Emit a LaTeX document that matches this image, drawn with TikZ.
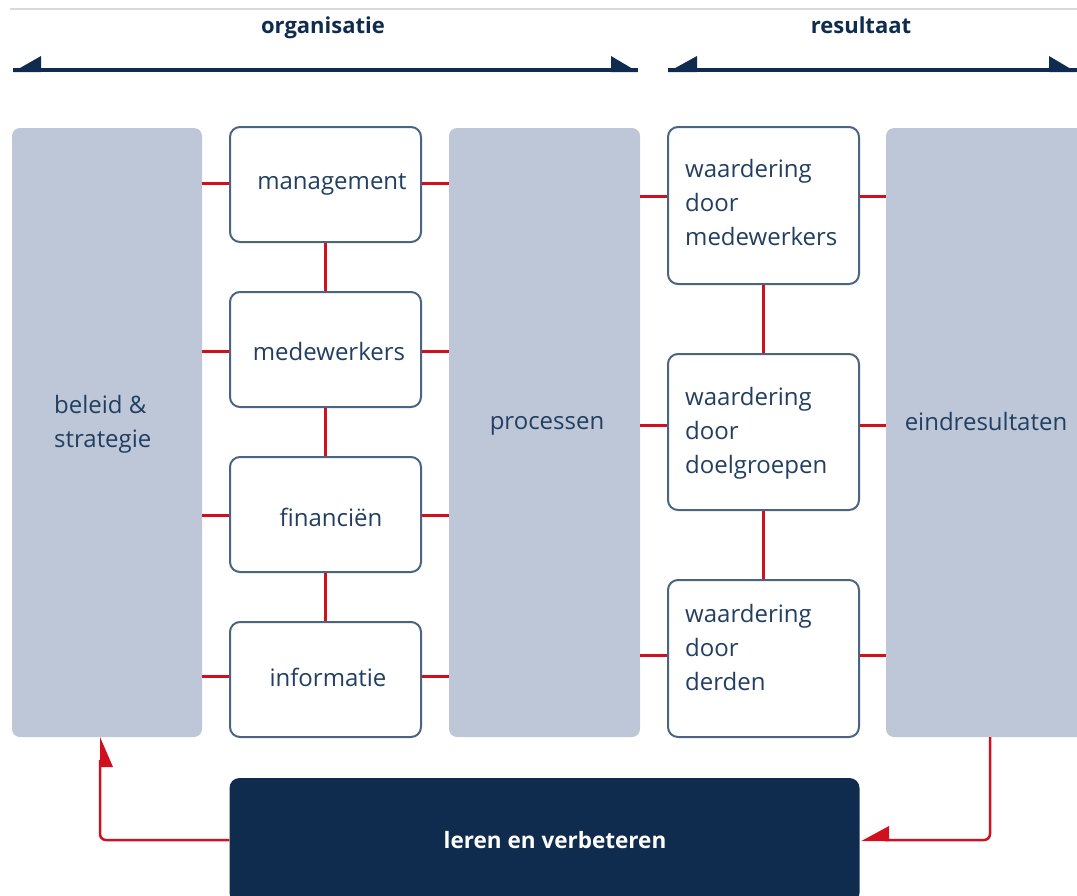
\documentclass[tikz,border=0pt]{standalone}
\usepackage{fontspec}
\setmainfont{Open Sans}
\definecolor{navy}{HTML}{0F2C4E}
\definecolor{txt}{HTML}{223F62}
\definecolor{gfill}{HTML}{BDC7D7}
\definecolor{bline}{HTML}{4A6482}
\definecolor{conn}{HTML}{D0101E}
\tikzset{
  gbox/.style={draw=none, fill=gfill, rounded corners=8pt, inner sep=0pt},
  wbox/.style={draw=bline, line width=2pt, fill=white, rounded corners=10pt, inner sep=0pt, minimum width=191pt},
  lbl/.style={text=txt, font=\fontsize{24}{34}\selectfont, inner sep=0pt},
  ttl/.style={text=navy, font=\fontsize{22}{26}\selectfont\bfseries, inner sep=0pt},
  link/.style={draw=conn, line width=3pt},
  loop/.style={draw=conn, line width=2.5pt, rounded corners=6pt},
}
\begin{document}
\begin{tikzpicture}[x=1pt,y=-1pt]
\useasboundingbox (0,0) rectangle (1077,895);
\clip (0,0) rectangle (1077,895);
% top rule
\draw[black!15, line width=1.5pt] (10,9) -- (1077,9);
% titles
\node[ttl] (torg) at (323,28) {organisatie};
\node[ttl] (tres) at (861,25) {resultaat};
% header arrows
\coordinate (a1l) at (13,70);
\coordinate (a1r) at (638,70);
\coordinate (a2l) at (668,70);
\coordinate (a2r) at (1077,70);
\draw[navy, line width=4pt] (a1l) -- (a1r);
\fill[navy] (13,72) -- (41,72) -- (41,56) -- cycle;
\fill[navy] (638,72) -- (611,72) -- (611,56) -- cycle;
\draw[navy, line width=4pt] (a2l) -- (a2r);
\fill[navy] (668,72) -- (697,72) -- (697,56) -- cycle;
\fill[navy] (1076,72) -- (1049,72) -- (1049,56) -- cycle;

% gray columns
\node[gbox, minimum width=190pt, minimum height=609pt] (bel) at (107,432.5) {};
\node[gbox, minimum width=191pt, minimum height=609pt] (pro) at (544.5,432.5) {};
\node[gbox, minimum width=205pt, minimum height=609pt] (ein) at (988.5,432.5) {};
\node[lbl, align=left, anchor=north west] (belt) at (54,395) {beleid \&\\strategie};
\node[lbl] (prot) at (547,426) {processen};
\node[lbl] (eint) at (986,421) {eindresultaten};

% organisation boxes
\node[wbox, minimum height=115pt] (man) at (325.5,184.5) {};
\node[wbox, minimum height=115pt] (med) at (325.5,349.5) {};
\node[wbox, minimum height=115pt] (fin) at (325.5,514.5) {};
\node[wbox, minimum height=115pt] (inf) at (325.5,679.5) {};
\node[lbl] at (332,184) {management};
\node[lbl] at (329,351) {medewerkers};
\node[lbl] at (331,517) {financiën};
\node[lbl] at (328,677) {informatie};

% result boxes
\node[wbox, minimum height=157pt] (wm) at (763.5,205.5) {};
\node[wbox, minimum height=156pt] (wd) at (763.5,432) {};
\node[wbox, minimum height=157pt] (wr) at (763.5,658.5) {};
\node[lbl, align=left, anchor=north west] at (685,159) {waardering\\door\\medewerkers};
\node[lbl, align=left, anchor=north west] at (685,387) {waardering\\door\\doelgroepen};
\node[lbl, align=left, anchor=north west] at (685,604) {waardering\\door\\derden};

% red connectors organisation
\foreach \b/\y in {man/183, med/351, fin/515, inf/676}{
  \draw[link] (bel.east |- 0,\y) -- (\b.west |- 0,\y);
  \draw[link] (\b.east |- 0,\y) -- (pro.west |- 0,\y);
}
\draw[link] (man.south) -- (med.north);
\draw[link] (med.south) -- (fin.north);
\draw[link] (fin.south) -- (inf.north);
% red connectors result
\foreach \b/\y in {wm/196, wd/425, wr/655}{
  \draw[link] (pro.east |- 0,\y) -- (\b.west |- 0,\y);
  \draw[link] (\b.east |- 0,\y) -- (ein.west |- 0,\y);
}
\draw[link] (wm.south) -- (wd.north);
\draw[link] (wd.south) -- (wr.north);

% bottom box
\node[fill=navy, rounded corners=10pt, minimum width=630pt, minimum height=125pt, inner sep=0pt] (ler) at (544.5,840.5) {};
\node[text=white, font=\fontsize{22.5}{26}\selectfont\bfseries, inner sep=0pt] (lert) at (555,840) {leren en verbeteren};

% feedback loops
\coordinate (lc) at (100,840);
\draw[loop] (ler.west |- lc) -- (lc) -- (100,760);
\fill[conn] (100,737) -- (113,767) -- (100,767) -- cycle;
\coordinate (rc) at (990,840);
\draw[loop] (ein.south -| rc) -- (rc) -- (885,840);
\fill[conn] (861,841.2) -- (889,826) -- (889,841.2) -- cycle;
\end{tikzpicture}
\end{document}
